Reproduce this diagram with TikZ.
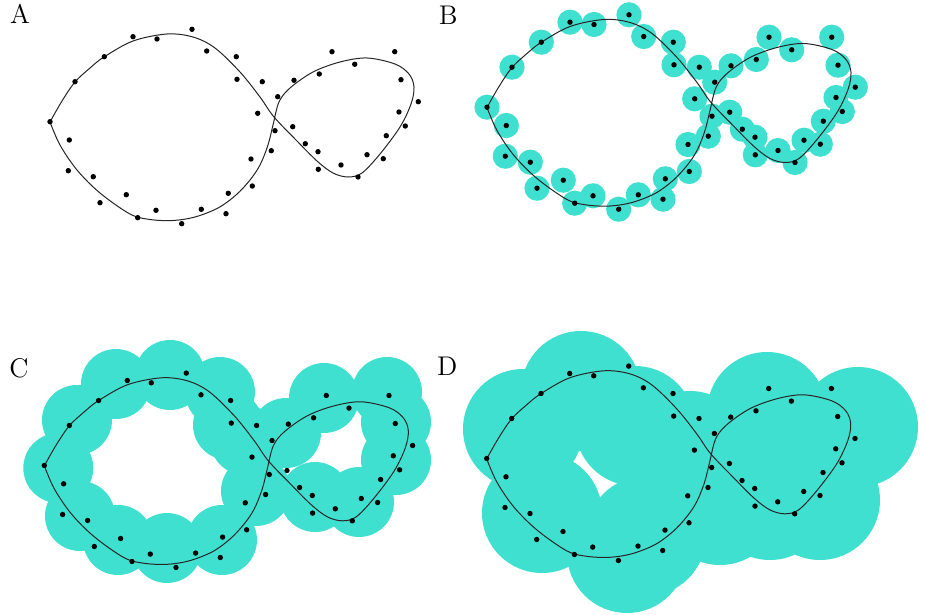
\documentclass[tikz,border=0pt]{standalone}
\definecolor{turq}{RGB}{64,224,208}
\tikzset{
  ball/.style={fill=turq},
  trace/.style={draw=black!85, line width=0.5pt},
  tag/.style={font=\fontsize{13.5}{16}\selectfont, inner sep=0pt}
}
% noisy samples of the figure-eight
\newcommand\samplepts{50/121.7, 75/81.7, 104.3/56.7, 133/36.7, 157/39, 192/29.3, 206.7/51, 236.3/56.7, 237/79.3,
  69.3/140, 68.3/170.7, 93.3/176.7, 126.3/194.7, 100/202.7, 137.7/217.7, 156/210.3, 181.7/223.7, 201.3/209.3, 228.3/193.3, 226/213.7,
  262.3/81.7, 294/80.3, 319.3/74, 332/51.7, 354.7/64.3, 394.7/51.7, 401/79.7, 418.3/101.7, 399/112, 405.3/126, 386.3/135.7,
  383.3/158.7, 367/154.7, 358/177, 341/165, 318.3/169.3, 318/151.7, 305.3/143.7, 292.7/126.7, 277.7/96.7, 257.7/113.3,
  275/130.7, 271.3/150.7, 251/159, 252.3/186}
\newcommand\sampledots{\foreach \x/\y in \samplepts {\fill (\x,\y) circle[radius=2.7];}}
\newcommand\sampleballs[1]{\foreach \x/\y in \samplepts {\fill[ball] (\x,\y) circle[radius=#1];}}
% the underlying curve
\newcommand\eightcurve{\draw[trace] plot[smooth, tension=0.55] coordinates {
  (50,122) (62,101) (75,82) (90,68) (104,57) (133,41) (167,34) (193,37) (215,48) (240,72) (260,97)
  (274,117) (297,141) (317,161) (333,173) (348,177) (362,173) (380,154) (400,127) (411,104) (414,87)
  (409,74) (395,64) (367,58) (340,62) (313,72) (290,88) (279,102) (273,125) (268,145) (260,165)
  (250,180) (236,195) (218,208) (195,217) (173,220.5) (150,219.5) (130,214) (100,193) (77,170) (60,145) (50,122)};}
\begin{document}
\begin{tikzpicture}[x=0.5pt, y=-0.5pt]
\useasboundingbox (0,0) rectangle (926,615);

% panel A
\node[tag] (labA) at (20,13.5) {A};
\eightcurve
\sampledots

% panel B
\node[tag] (labB) at (448.3,15) {B};
\begin{scope}[shift={(437,-14.5)}]
  \sampleballs{12.6}
  \eightcurve
  \sampledots
\end{scope}

% panel C
\node[tag] (labC) at (19,368) {C};
\foreach \x/\y in {77/420, 58.3/468, 80/516, 116/384, 170/375, 220/392, 118/540, 167/548, 222/540,
  228/425, 245/440, 256/491, 286/433, 324/398, 387/392, 396/422, 396/460, 359/502, 315/497}
  {\fill[ball] (\x,\y) circle[radius=35];}
\begin{scope}[shift={(-5.7,343.8)}]
  \eightcurve
  \sampledots
\end{scope}

% panel D
\node[tag] (labD) at (447.3,366.5) {D};
\foreach \x/\y in {581/391, 523/429, 542/513, 627/553, 635/426, 646/536, 690/451, 767/412, 858/427,
  820/500, 720/505, 770/500}
  {\fill[ball] (\x,\y) circle[radius=60];}
\begin{scope}[shift={(436.7,336.8)}]
  \eightcurve
  \sampledots
\end{scope}
\end{tikzpicture}
\end{document}
